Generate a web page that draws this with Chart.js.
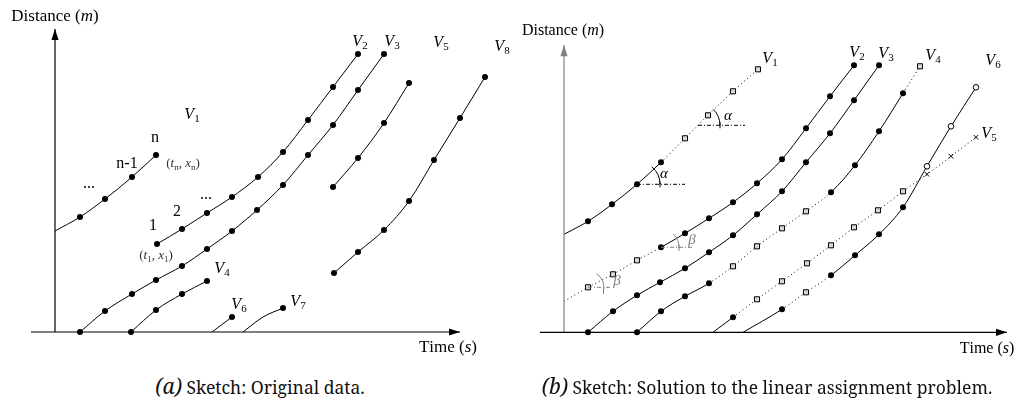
<!DOCTYPE html>
<html>
<head>
<meta charset="utf-8">
<script src="https://cdn.jsdelivr.net/npm/chart.js@4.4.1/dist/chart.umd.min.js"></script>
<style>
  body { margin: 0; background: #fff; width: 1016px; height: 403px; position: relative; overflow: hidden; }
  canvas { position: absolute; top: 0; }
  #chartA { left: 0; }
  #chartB { left: 508px; }
  .caption { position: absolute; top: 372px; font-family: "Noto Serif", serif; font-size: 17.5px; white-space: nowrap; transform: translateX(-50%); color: #111; }
  .caption i { font-size: 21px; }
  .preload { position: absolute; left: -200px; top: 0; font-family: "Liberation Serif"; }
</style>
</head>
<body>
<span class="preload">Aa <i>Aa</i></span>
<canvas id="chartA" width="520" height="370"></canvas>
<canvas id="chartB" width="508" height="370"></canvas>
<div class="caption" style="left:260px"><i>(a)</i> Sketch: Original data.</div>
<div class="caption" style="left:767px"><i>(b)</i> Sketch: Solution to the linear assignment problem.</div>
<script>
// ---- panel (a): original data, [time, distance] ----
const aV1 = [[0, 10.1], [2.5, 11.5], [5.0, 13.3], [7.7, 15.5], [10.1, 17.7]];
const aV2 = [[10.2, 8.8], [12.7, 10.3], [15.2, 11.9], [17.7, 13.5], [20.3, 15.5], [22.8, 18.0], [25.3, 21.2], [27.8, 24.5], [30.3, 27.8]];
const aV3 = [[2.5, 0], [5.0, 2.1], [7.7, 3.8], [10.1, 5.2], [12.7, 6.6], [15.2, 8.3], [17.7, 10.1], [20.2, 12.2], [22.8, 14.7], [25.3, 17.7], [27.8, 20.7], [30.3, 24.2], [32.9, 27.8]];
const aV4 = [[7.6, 0], [10.1, 2.2], [12.7, 3.8], [15.2, 5.1]];
const aV5 = [[27.8, 14.5], [30.3, 17.4], [32.9, 20.9], [35.4, 24.9]];
const aV6 = [[15.7, 0], [17.7, 1.5]];
const aV7 = [[18.8, 0], [20.8, 1.5], [22.8, 2.4]];
const aV8 = [[27.9, 5.9], [30.3, 8.0], [32.9, 10.2], [35.4, 13.1], [37.9, 17.2], [40.5, 21.4], [43.0, 25.5]];

const aAxisX = [[-2.4, 0], [40.5, 0]];
const aAxisY = [[0, 0], [0, 30.3]];

// labels: [text, time, distance]
const aLabels = [
  ['$V_1$', 13.7, 21.7], ['$V_2$', 30.5, 29.0], ['$V_3$', 33.7, 29.0], ['$V_5$', 38.6, 28.9],
  ['$V_8$', 44.7, 28.5], ['$V_4$', 16.7, 6.3], ['$V_6$', 18.4, 2.7], ['$V_7$', 24.3, 3.0],
  ['n', 10.0, 19.4], ['n-1', 7.2, 16.8], ['1', 9.8, 10.6], ['2', 12.2, 12.0],
  ['...', 3.4, 14.8], ['...', 15.1, 13.7]
];
const aPointLabels = [['($t_n$, $x_n$)', 12.8, 16.8], ['($t_1$, $x_1$)', 10.1, 7.6]];
const aAxisTitles = [['Distance ($m$)', 0, 31.5], ['Time ($s$)', 39.3, -1.6]];

// ---- panel (b): assignment solution ----
// marks: n none, d dot, s square, x cross, o circle ; segs: - solid, . dotted
const bV1 = [[0, 9.8], [2.4, 11.1], [4.8, 12.8], [7.3, 14.8], [9.7, 17.0], [12.1, 19.4], [14.4, 21.7], [16.9, 24.1], [19.4, 26.3]];
const bV1Marks = 'nddddssss';
const bV1Segs = '----....';
const bV2 = [[0, 3.1], [2.4, 4.5], [4.9, 5.8], [7.3, 7.2], [9.7, 8.5], [12.1, 9.9], [14.5, 11.4], [16.9, 13.0], [19.3, 14.9], [21.8, 17.3], [24.2, 20.4], [26.6, 23.6], [29.0, 26.7]];
const bV2Marks = 'nsssddddddddd';
const bV2Segs = '....--------';
const bV3 = [[2.4, 0], [4.9, 2.1], [7.3, 3.7], [9.6, 5.0], [12.1, 6.4], [14.5, 8.0], [16.9, 9.7], [19.3, 11.8], [21.8, 14.1], [24.2, 17.0], [26.6, 19.9], [29.0, 23.2], [31.5, 26.7]];
const bV3Marks = 'ddddddddddddd';
const bV3Segs = '------------';
const bV4 = [[7.3, 0], [9.7, 2.1], [12.1, 3.6], [14.5, 4.9], [16.9, 6.6], [19.3, 8.6], [21.8, 10.4], [24.2, 12.1], [26.7, 14.0], [29.1, 16.7], [31.5, 20.1], [33.9, 23.9], [35.6, 26.6]];
const bV4Marks = 'ddddssssdddds';
const bV4Segs = '---.....---.';
const bV5 = [[14.9, 0], [16.9, 1.5], [19.3, 3.3], [21.8, 5.1], [24.3, 6.9], [26.7, 8.7], [29.0, 10.5], [31.4, 12.2], [33.9, 14.1], [36.3, 15.8], [38.7, 17.6], [41.2, 19.5]];
const bV5Marks = 'ndsssssssxxx';
const bV5Segs = '-..........';
const bV6 = [[17.9, 0], [21.8, 2.3], [24.2, 4.0], [26.7, 5.7], [29.1, 7.7], [31.5, 9.8], [33.9, 12.5], [36.3, 16.6], [38.7, 20.6], [41.2, 24.5]];
const bV6Marks = 'ndsddddooo';
const bV6Segs = '-..------';

const bAxisX = [[-2.4, 0], [44.3, 0]];
const bAxisY = [[0, 0], [0, 28.7]];

const bLabels = [
  ['$V_1$', 20.6, 27.4], ['$V_2$', 29.3, 28.0], ['$V_3$', 32.2, 27.9],
  ['$V_4$', 36.9, 27.7], ['$V_5$', 42.5, 19.9], ['$V_6$', 42.9, 27.2]
];
const bAxisTitles = [['Distance ($m$)', -0.1, 30.2], ['Time ($s$)', 42.3, -1.6]];

// angle marks: [time, distance, fromDeg, toDeg]
const bAngles = [[7.3, 14.8, 0, 50], [13.4, 20.7, 0, 46], [9.7, 8.5, -2, 47], [2.4, 4.5, -14, 58]];
const bAngleSyms = [['$α$', 10.0, 15.8], ['$α$', 16.4, 21.6], ['$β$', 12.8, 9.2], ['$β$', 5.3, 5.1]];
// horizontal reference lines: [t0, t1, distance]
const bRefLines = [[7.3, 12.1, 14.8], [13.4, 18.1, 20.7], [9.7, 12.8, 8.5], [2.4, 4.6, 4.5]];

const angleRadius = [23, 22, 18, 16];
const angleColor = ['#000', '#000', '#808080', '#808080'];

const markStyle = { n: 'circle', d: 'circle', s: 'rect', x: 'crossRot', o: 'circle' };
const markRadius = { n: 0, d: 3, s: 3.6, x: 3.2, o: 2.8 };
const markFill = { n: '#000', d: '#000', s: '#d8d8d8', x: '#000', o: '#fff' };

const serif = '"Liberation Serif", "Times New Roman", serif';

function toXY(arr) {
  return arr.map(p => ({ x: p[0], y: p[1] }));
}

function track(pts, marks, segs) {
  marks = marks || 'd'.repeat(pts.length);
  const m = [...marks];
  return {
    data: toXY(pts),
    borderColor: '#000',
    borderWidth: 1,
    cubicInterpolationMode: 'monotone',
    pointStyle: m.map(c => markStyle[c]),
    pointRadius: m.map(c => markRadius[c]),
    pointBackgroundColor: m.map(c => markFill[c]),
    pointBorderColor: '#000',
    pointBorderWidth: m.map(c => (c === 'd' ? 0 : 1)),
    segment: {
      borderDash: ctx => (segs && segs[ctx.p0DataIndex] === '.' ? [1, 3] : undefined)
    }
  };
}

function axisLine(pts, color) {
  return {
    data: toXY(pts),
    borderColor: color,
    borderWidth: 1.2,
    pointRadius: 0,
    arrow: true
  };
}

function refLine(r, color) {
  return {
    data: [{ x: r[0], y: r[2] }, { x: r[1], y: r[2] }],
    borderColor: color,
    borderWidth: 1,
    borderDash: [4, 2, 1, 2],
    pointRadius: 0
  };
}

// small rich text: $..$ italic, _c subscript
function drawRich(ctx, str, x, y, size, color) {
  const parts = [];
  let it = false;
  for (let i = 0; i < str.length; i++) {
    const c = str[i];
    if (c === '$') { it = !it; continue; }
    if (c === '_') { parts.push({ t: str[++i], it: false, sub: true }); continue; }
    parts.push({ t: c, it: it, sub: false });
  }
  const font = p => (p.it ? 'italic ' : '') + Math.round(p.sub ? size * 0.7 : size) + 'px ' + serif;
  let w = 0;
  parts.forEach(p => { ctx.font = font(p); p.w = ctx.measureText(p.t).width; w += p.w; });
  let cx = x - w / 2;
  ctx.fillStyle = color;
  ctx.textBaseline = 'middle';
  ctx.textAlign = 'left';
  parts.forEach(p => {
    ctx.font = font(p);
    ctx.fillText(p.t, cx, p.sub ? y + size * 0.28 : y);
    cx += p.w;
  });
}

const sketchPlugin = {
  id: 'sketch',
  afterDatasetsDraw(chart, args, opts) {
    const ctx = chart.ctx;
    const xs = chart.scales.x, ys = chart.scales.y;
    const px = t => xs.getPixelForValue(t);
    const py = d => ys.getPixelForValue(d);
    ctx.save();

    // arrow heads on the axes
    chart.data.datasets.forEach(ds => {
      if (!ds.arrow) return;
      const a = ds.data[ds.data.length - 2], b = ds.data[ds.data.length - 1];
      const x1 = px(b.x), y1 = py(b.y);
      const ang = Math.atan2(y1 - py(a.y), x1 - px(a.x));
      ctx.fillStyle = ds.borderColor;
      ctx.beginPath();
      ctx.moveTo(x1, y1);
      ctx.lineTo(x1 - 11 * Math.cos(ang) + 3.6 * Math.sin(ang), y1 - 11 * Math.sin(ang) - 3.6 * Math.cos(ang));
      ctx.lineTo(x1 - 11 * Math.cos(ang) - 3.6 * Math.sin(ang), y1 - 11 * Math.sin(ang) + 3.6 * Math.cos(ang));
      ctx.closePath();
      ctx.fill();
    });

    // angle arcs
    (opts.angles || []).forEach((a, i) => {
      const cx = px(a[0]), cy = py(a[1]), r = angleRadius[i];
      ctx.strokeStyle = angleColor[i];
      ctx.lineWidth = 1;
      ctx.beginPath();
      ctx.arc(cx, cy, r, -a[3] * Math.PI / 180, -a[2] * Math.PI / 180);
      ctx.stroke();
      const tx = cx + r * Math.cos(a[2] * Math.PI / 180), ty = cy - r * Math.sin(a[2] * Math.PI / 180);
      ctx.beginPath();
      ctx.moveTo(tx, ty - 3);
      ctx.lineTo(tx, ty + 3);
      ctx.stroke();
    });
    (opts.angleSyms || []).forEach((s, i) => drawRich(ctx, s[0], px(s[1]), py(s[2]), 15, angleColor[i]));

    (opts.titles || []).forEach(s => drawRich(ctx, s[0], px(s[1]), py(s[2]), opts.titleSize, '#000'));
    (opts.labels || []).forEach(s => drawRich(ctx, s[0], px(s[1]), py(s[2]), 16, '#000'));
    (opts.pointLabels || []).forEach(s => drawRich(ctx, s[0], px(s[1]), py(s[2]), 13, '#333'));
    ctx.restore();
  }
};

function makeChart(id, datasets, xMin, xMax, yMin, yMax, sketch) {
  return new Chart(document.getElementById(id), {
    type: 'line',
    data: { datasets: datasets },
    options: {
      responsive: false,
      animation: false,
      layout: { padding: 0, autoPadding: false },
      scales: {
        x: { type: 'linear', display: false, min: xMin, max: xMax },
        y: { type: 'linear', display: false, min: yMin, max: yMax }
      },
      plugins: { legend: { display: false }, tooltip: { enabled: false }, sketch: sketch }
    },
    plugins: [sketchPlugin]
  });
}

const chartA = makeChart('chartA', [
  axisLine(aAxisX, '#000'),
  axisLine(aAxisY, '#000'),
  track(aV1, 'ndddd'),
  track(aV2),
  track(aV3),
  track(aV4),
  track(aV5),
  track(aV6, 'nd'),
  track(aV7, 'nnd'),
  track(aV8)
], -5.5, 46.5, -3.8, 33.2, {
  labels: aLabels, pointLabels: aPointLabels, titles: aAxisTitles, titleSize: 17
});

const chartB = makeChart('chartB', [
  axisLine(bAxisX, '#000'),
  axisLine(bAxisY, '#808080'),
  ...bRefLines.map((r, i) => refLine(r, angleColor[i])),
  track(bV1, bV1Marks, bV1Segs),
  track(bV2, bV2Marks, bV2Segs),
  track(bV3, bV3Marks, bV3Segs),
  track(bV4, bV4Marks, bV4Segs),
  track(bV5, bV5Marks, bV5Segs),
  track(bV6, bV6Marks, bV6Segs)
], -5.6, 45.2, -3.77, 33.23, {
  labels: bLabels, titles: bAxisTitles, titleSize: 16, angles: bAngles, angleSyms: bAngleSyms
});

// redraw once the serif faces are ready
Promise.all([
  document.fonts.load('16px "Liberation Serif"'),
  document.fonts.load('italic 16px "Liberation Serif"')
]).then(() => {
  chartA.update('none');
  chartB.update('none');
});
</script>
</body>
</html>
